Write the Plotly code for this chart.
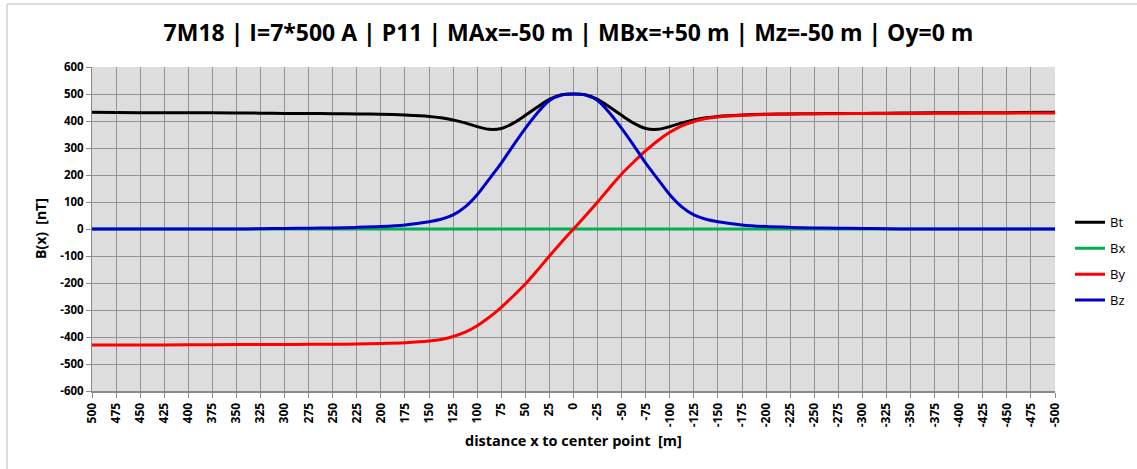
import plotly.graph_objects as go

# distance x to center point [m]
x_m = [500, 450, 400, 350, 325, 300, 275, 250, 225, 200, 175, 150, 137.5, 125, 112.5, 100,
       87.5, 75, 62.5, 50, 37.5, 25, 12.5, 0,
       -12.5, -25, -37.5, -50, -62.5, -75, -87.5, -100, -112.5, -125, -137.5, -150, -175,
       -200, -225, -250, -275, -300, -325, -350, -400, -450, -500]

bt_nT = [432, 431, 431, 430, 429, 428, 428, 427, 426, 425, 422, 417, 412, 404, 393, 379,
         369, 372, 392, 421, 452, 480, 497, 500,
         497, 480, 452, 421, 392, 372, 369, 379, 393, 404, 412, 417, 422,
         425, 426, 427, 428, 428, 429, 430, 431, 431, 432]

bx_nT = [0] * 47

by_nT = [-430, -430, -429, -428, -428, -428, -427, -427, -426, -424, -421, -415, -409, -398, -382, -358,
         -327, -290, -248, -204, -153, -100, -49, 0,
         49, 100, 153, 204, 248, 290, 327, 358, 382, 398, 409, 415, 421,
         424, 426, 427, 427, 428, 428, 428, 429, 430, 430]

bz_nT = [0, 0, 0, 0, 1, 2, 3, 4, 6, 9, 15, 27, 36, 52, 82, 127,
         185, 244, 310, 373, 430, 476, 496, 500,
         496, 476, 430, 373, 310, 244, 185, 127, 82, 52, 36, 27, 15,
         9, 6, 4, 3, 2, 1, 0, 0, 0, 0]

series = [("Bt", bt_nT, "#000000"), ("Bx", bx_nT, "#00b050"),
          ("By", by_nT, "#ff0000"), ("Bz", bz_nT, "#0000c8")]

x_ticks = list(range(500, -501, -25))
y_ticks = list(range(-600, 601, 100))

FONT = "'Open Sans', sans-serif"

fig = go.Figure()
for name, vals, col in series:
    fig.add_trace(go.Scatter(x=x_m, y=vals, name=name, mode="lines",
                             line=dict(color=col, width=3, shape="spline", smoothing=0.8),
                             legendgroup=name))

fig.update_layout(
    width=1137, height=469,
    margin=dict(l=92, r=82, t=67, b=78, pad=0, autoexpand=False),
    paper_bgcolor="white", plot_bgcolor="#dddddd",
    font=dict(family=FONT, color="#000000"),
    title=dict(text="7M18 | I=7*500 A | P11 | MAx=-50 m | MBx=+50 m | Mz=-50 m | Oy=0 m",
               x=0.5, xanchor="center", y=1 - 33 / 469, yanchor="middle",
               font=dict(size=23, family=FONT, weight="bold")),
    showlegend=True,
    legend=dict(x=(1070 - 92) / 963, xanchor="left", y=0.40, yanchor="middle",
                font=dict(size=13, family=FONT), tracegroupgap=6,
                bgcolor="rgba(0,0,0,0)", borderwidth=0),
    xaxis=dict(range=[500, -500], autorange=False, tickmode="array", tickvals=x_ticks,
               ticktext=[str(v) for v in x_ticks], tickangle=-90,
               tickfont=dict(size=12, family=FONT, weight="bold"),
               showgrid=True, gridcolor="#939393", gridwidth=1,
               showline=True, linecolor="#8a8a8a", linewidth=2,
               ticks="outside", ticklen=5, tickcolor="#8a8a8a", zeroline=False),
    yaxis=dict(range=[-600, 600], autorange=False, tickmode="array", tickvals=y_ticks,
               ticktext=[str(v) for v in y_ticks],
               tickfont=dict(size=11.5, family=FONT, weight="bold"),
               showgrid=True, gridcolor="#939393", gridwidth=1,
               showline=True, linecolor="#8a8a8a", linewidth=1,
               ticks="outside", ticklen=5, tickcolor="#8a8a8a", zeroline=False),
    annotations=[
        dict(text="B(x)\u00a0\u00a0[nT]", xref="paper", yref="paper",
             x=(40 - 92) / 963, y=0.5, textangle=-90, showarrow=False,
             xanchor="center", yanchor="middle",
             font=dict(size=14, family=FONT, weight="bold")),
        dict(text="distance x to center point\u00a0\u00a0[m]", xref="paper", yref="paper",
             x=0.5, y=-(440 - 391) / 324, showarrow=False,
             xanchor="center", yanchor="middle",
             font=dict(size=14.5, family=FONT, weight="bold")),
    ],
    shapes=[dict(type="rect", xref="paper", yref="paper",
                 x0=(7 - 92) / 963, x1=(1145 - 92) / 963,
                 y0=-(480 - 391) / 324, y1=1 + (67 - 4) / 324,
                 line=dict(color="#bdbdbd", width=1), fillcolor="rgba(0,0,0,0)", layer="below")],
)

fig.write_html("out.html")
